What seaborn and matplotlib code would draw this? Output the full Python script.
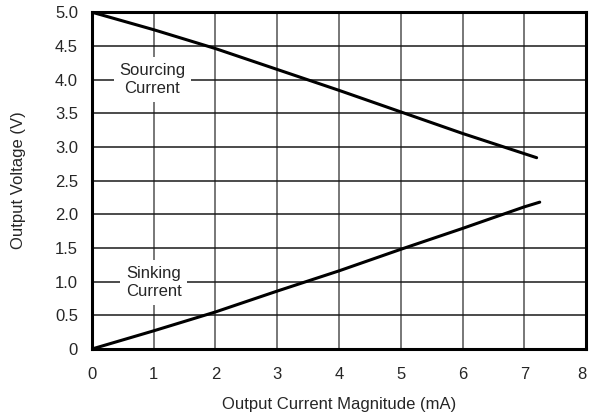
import numpy as np
import pandas as pd
import seaborn as sns
import matplotlib.pyplot as plt
import matplotlib.transforms as mtransforms
from matplotlib.ticker import FuncFormatter

# 数据
source_i = [0, 1, 2, 3, 4, 5, 6, 7, 7.20]
source_v = [5.0, 4.74, 4.46, 4.15, 3.84, 3.52, 3.20, 2.90, 2.84]
sink_i = [0, 1, 2, 3, 4, 5, 6, 7, 7.25]
sink_v = [0.0, 0.27, 0.55, 0.86, 1.16, 1.48, 1.79, 2.11, 2.18]

x_ticks = [0, 1, 2, 3, 4, 5, 6, 7, 8]
y_ticks = [0, 0.5, 1.0, 1.5, 2.0, 2.5, 3.0, 3.5, 4.0, 4.5, 5.0]

df = pd.concat([
    pd.DataFrame({'I': source_i, 'V': source_v, 'mode': 'Sourcing'}),
    pd.DataFrame({'I': sink_i, 'V': sink_v, 'mode': 'Sinking'}),
], ignore_index=True)

sns.set_style('white')
plt.rcParams['font.family'] = ['Liberation Sans', 'DejaVu Sans']
fs = 12

fig, ax = plt.subplots(figsize=(5.89, 4.2), dpi=100)
fig.subplots_adjust(left=0.156, right=0.995, top=0.971, bottom=0.169)

sns.lineplot(data=df, x='I', y='V', units='mode', estimator=None,
             color='black', linewidth=2.2, ax=ax, zorder=3)

ax.set_xlim(0, 8)
ax.set_ylim(0, 5)
ax.set_xticks(x_ticks)
ax.set_yticks(y_ticks)
ax.yaxis.set_major_formatter(FuncFormatter(lambda v, p: '0' if v == 0 else f'{v:.1f}'))
ax.tick_params(length=0, labelsize=fs)
ax.tick_params(axis='x', pad=13)
ax.tick_params(axis='y', pad=10)
ax.xaxis.grid(True, color='#606060', linewidth=1.2)
ax.yaxis.grid(True, color='#1a1a1a', linewidth=1.1)
ax.set_axisbelow(True)
for s in ax.spines.values():
    s.set_color('black')
    s.set_linewidth(2.2)

# 最后一个刻度标签稍微左移，避免被裁掉
last = ax.get_xticklabels()[-1]
last.set_transform(last.get_transform() +
                   mtransforms.ScaledTranslation(-3 / 72, 0, fig.dpi_scale_trans))

ax.set_xlabel('Output Current Magnitude (mA)', fontsize=fs)
ax.set_ylabel('Output Voltage (V)', fontsize=fs)
ax.xaxis.set_label_coords(0.5, -0.166)
ax.yaxis.set_label_coords(-0.149, 0.5)
ax.xaxis.label.set_va('center')
ax.yaxis.label.set_va('center')

box = dict(facecolor='white', edgecolor='none', boxstyle='square,pad=0.35')
ax.text(0.98, 4.0, 'Sourcing\nCurrent', ha='center', va='center',
        fontsize=fs, bbox=box, zorder=4, linespacing=1.3)
ax.text(1.0, 0.985, 'Sinking\nCurrent', ha='center', va='center',
        fontsize=fs, bbox=box, zorder=4, linespacing=1.3)

fig.savefig('out.png')
